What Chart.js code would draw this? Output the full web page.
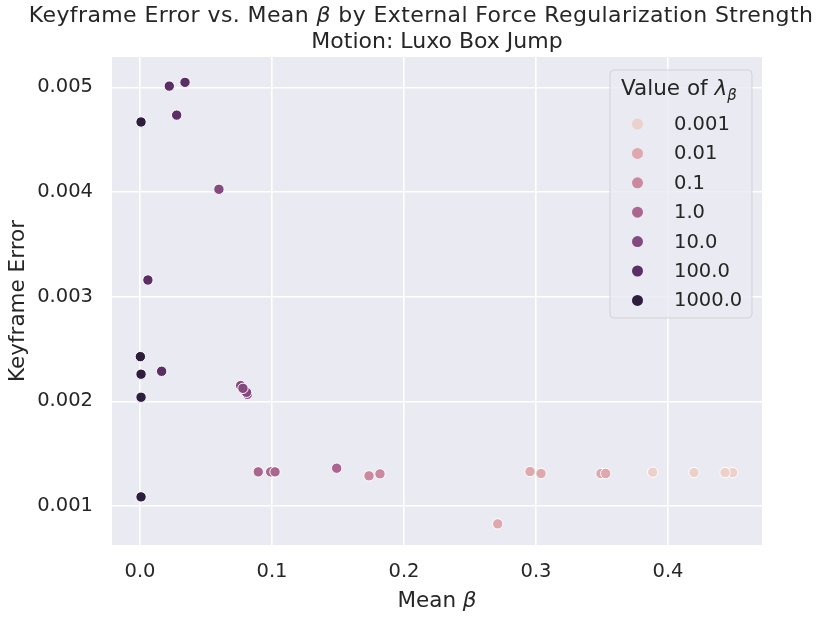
<!DOCTYPE html>
<html>
<head>
<meta charset="utf-8">
<script src="https://cdn.jsdelivr.net/npm/chart.js@4.4.0/dist/chart.umd.min.js"></script>
<style>
  html, body { margin: 0; padding: 0; background: #fff; }
  #wrap { width: 819px; height: 617px; }
</style>
</head>
<body>
<div id="wrap"><canvas id="chart" width="819" height="617"></canvas></div>
<script>
// lambda_beta levels (legend order) and their colours
const lambdaLabels = ['0.001', '0.01', '0.1', '1.0', '10.0', '100.0', '1000.0'];
const lambdaColors = ['#ecd0ca', '#dfa8ac', '#cb889f', '#ab6690', '#84497f', '#5b2f65', '#2d1e3e'];

// mean beta (x) and keyframe error (y), one pair of arrays per level
const beta_0001 = [0.3884, 0.4197, 0.4490, 0.4432];
const err_0001  = [0.001323, 0.001319, 0.001319, 0.001319];
const beta_001  = [0.2955, 0.3038, 0.3492, 0.3528, 0.2710];
const err_001   = [0.001329, 0.001310, 0.001310, 0.001310, 0.000829];
const beta_01   = [0.1735, 0.1818];
const err_01    = [0.001288, 0.001307];
const beta_1    = [0.0896, 0.0990, 0.1023, 0.1490];
const err_1     = [0.001326, 0.001326, 0.001326, 0.001361];
const beta_10   = [0.0598, 0.0813, 0.0807, 0.0763, 0.0780];
const err_10    = [0.004026, 0.002067, 0.002086, 0.002150, 0.002124];
const beta_100  = [0.0222, 0.0341, 0.0278, 0.0060, 0.0164];
const err_100   = [0.005012, 0.005048, 0.004735, 0.003159, 0.002287];
const beta_1000 = [0.0008, 0.0003, 0.0008, 0.0008, 0.0008];
const err_1000  = [0.004669, 0.002427, 0.002259, 0.002039, 0.001087];

const xTicks = [0.0, 0.1, 0.2, 0.3, 0.4];
const yTicks = [0.001, 0.002, 0.003, 0.004, 0.005];

const seriesX = [beta_0001, beta_001, beta_01, beta_1, beta_10, beta_100, beta_1000];
const seriesY = [err_0001, err_001, err_01, err_1, err_10, err_100, err_1000];

const TEXT = '#262626';
const FAMILY = "'DejaVu Sans', sans-serif";

Chart.defaults.font.family = FAMILY;
Chart.defaults.color = TEXT;

const datasets = lambdaLabels.map((lab, i) => ({
    label: lab,
    data: seriesX[i].map((x, j) => ({ x: x, y: seriesY[i][j] })),
    backgroundColor: lambdaColors[i],
    borderColor: '#ffffff',
    borderWidth: 1,
    pointRadius: 5.2,
    pointHoverRadius: 5.2
}));

// draw text made of pieces (some italic / smaller / shifted)
function richWidth(ctx, parts) {
    let w = 0;
    parts.forEach(p => {
        ctx.font = `${p.it ? 'italic ' : ''}${p.size}px ${FAMILY}`;
        w += ctx.measureText(p.t).width;
    });
    return w;
}
function drawRich(ctx, parts, x, y, align) {
    let cx = align === 'center' ? x - richWidth(ctx, parts) / 2 : x;
    ctx.textAlign = 'left';
    parts.forEach(p => {
        ctx.font = `${p.it ? 'italic ' : ''}${p.size}px ${FAMILY}`;
        ctx.fillText(p.t, cx, y + (p.dy || 0));
        cx += ctx.measureText(p.t).width;
    });
}

const textPlugin = {
    id: 'texts',
    afterDraw(chart) {
        const ctx = chart.ctx;
        const area = chart.chartArea;
        ctx.save();
        ctx.fillStyle = TEXT;
        ctx.textBaseline = 'alphabetic';

        // title
        ctx.letterSpacing = '0.4px';
        drawRich(ctx, [
            { t: 'Keyframe Error vs. Mean ', size: 22 },
            { t: 'β', size: 22, it: true },
            { t: ' by External Force Regularization Strength', size: 22 }
        ], 421, 22, 'center');
        ctx.letterSpacing = '0px';
        drawRich(ctx, [{ t: 'Motion: Luxo Box Jump', size: 22 }], (area.left + area.right) / 2, 48, 'center');

        // axis titles
        drawRich(ctx, [
            { t: 'Mean ', size: 21.5 },
            { t: 'β', size: 21.5, it: true }
        ], (area.left + area.right) / 2, 607, 'center');

        ctx.save();
        ctx.translate(24, (area.top + area.bottom) / 2);
        ctx.rotate(-Math.PI / 2);
        drawRich(ctx, [{ t: 'Keyframe Error', size: 21.5 }], 0, 0, 'center');
        ctx.restore();

        // legend
        const lx = 610, ly = 70, lw = 142, lh = 248;
        ctx.beginPath();
        ctx.roundRect(lx, ly, lw, lh, 4);
        ctx.fillStyle = 'rgba(234,234,242,0.8)';
        ctx.fill();
        ctx.strokeStyle = 'rgba(204,204,204,0.8)';
        ctx.lineWidth = 1;
        ctx.stroke();

        ctx.fillStyle = TEXT;
        drawRich(ctx, [
            { t: 'Value of ', size: 21.5 },
            { t: 'λ', size: 21.5, it: true },
            { t: 'β', size: 15, it: true, dy: 5 }
        ], 621, 95, 'left');

        ctx.textBaseline = 'middle';
        lambdaLabels.forEach((lab, i) => {
            const ry = 124 + i * 29.4;
            ctx.beginPath();
            ctx.arc(637.5, ry, 5.5, 0, Math.PI * 2);
            ctx.fillStyle = lambdaColors[i];
            ctx.fill();
            ctx.fillStyle = TEXT;
            ctx.font = `19.5px ${FAMILY}`;
            ctx.fillText(lab, 674, ry + 1);
        });
        ctx.restore();
    }
};

const bgPlugin = {
    id: 'plotBg',
    beforeDraw(chart) {
        const a = chart.chartArea;
        chart.ctx.save();
        chart.ctx.fillStyle = '#eaeaf2';
        chart.ctx.fillRect(a.left, a.top, a.right - a.left, a.bottom - a.top);
        chart.ctx.restore();
    }
};

new Chart(document.getElementById('chart'), {
    type: 'scatter',
    data: { datasets: datasets },
    options: {
        responsive: false,
        devicePixelRatio: 1,
        animation: false,
        layout: { padding: { top: 57, right: 57, left: 0, bottom: 0 } },
        plugins: {
            legend: { display: false },
            title: { display: false },
            tooltip: { enabled: false }
        },
        scales: {
            x: {
                type: 'linear',
                min: -0.0212,
                max: 0.4712,
                afterBuildTicks: s => { s.ticks = xTicks.map(v => ({ value: v })); },
                afterFit: s => { s.height = 72; },
                grid: { color: '#ffffff', lineWidth: 1.6, drawTicks: false },
                border: { display: false },
                ticks: {
                    padding: 15,
                    font: { size: 19.5 },
                    color: TEXT,
                    callback: v => v.toFixed(1)
                }
            },
            y: {
                type: 'linear',
                min: 0.000627,
                max: 0.00529,
                afterBuildTicks: s => { s.ticks = yTicks.map(v => ({ value: v })); },
                afterFit: s => { s.width = 112; },
                grid: { color: '#ffffff', lineWidth: 1.6, drawTicks: false },
                border: { display: false },
                ticks: {
                    padding: 19,
                    font: { size: 19.5 },
                    color: TEXT,
                    callback: v => v.toFixed(3)
                }
            }
        }
    },
    plugins: [bgPlugin, textPlugin]
});
</script>
</body>
</html>
